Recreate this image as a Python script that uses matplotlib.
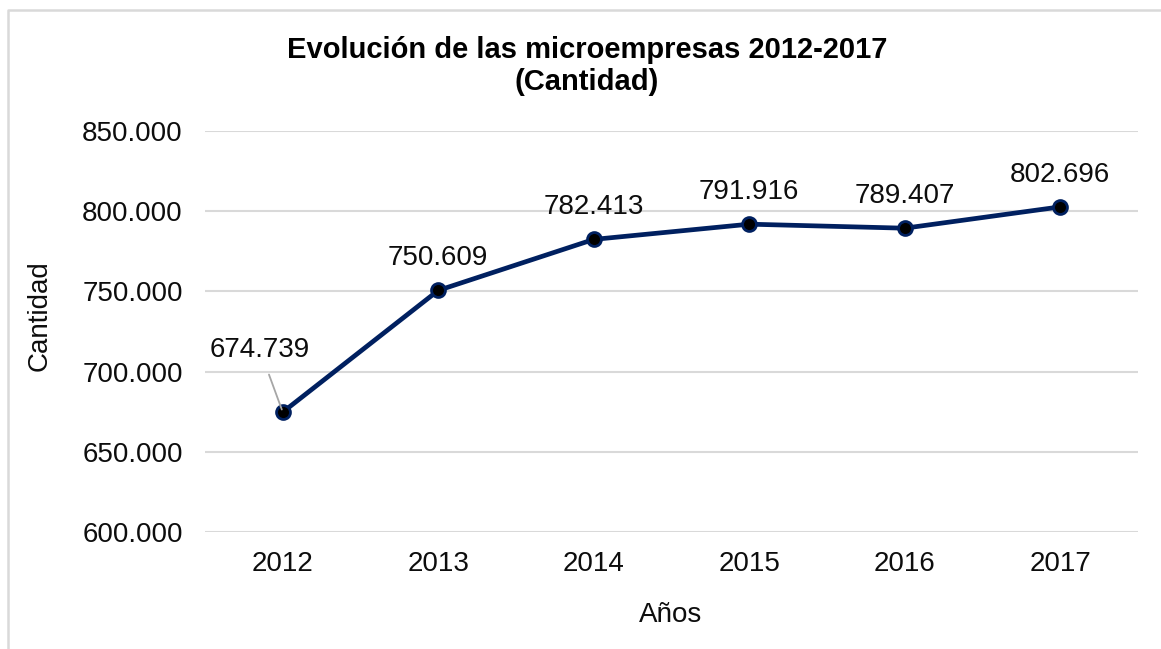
import matplotlib
matplotlib.use("Agg")
import matplotlib.pyplot as plt
from matplotlib.lines import Line2D
from matplotlib.ticker import FuncFormatter, MultipleLocator

years = ["2012", "2013", "2014", "2015", "2016", "2017"]
values = [674739, 750609, 782413, 791916, 789407, 802696]
title = "Evolución de las microempresas 2012-2017\n(Cantidad)"
xlabel = "Años"
ylabel = "Cantidad"

plt.rcParams['font.family'] = ['Liberation Sans', 'DejaVu Sans']

TXT = "#0d0d0d"
W, H = 1161, 649
fig = plt.figure(figsize=(W / 100, H / 100), dpi=100)
ax = fig.add_axes([205 / W, 1 - 532 / H, (1138 - 205) / W, (532 - 131) / H])

x = list(range(len(years)))
ax.plot(x, values, color="#002060", lw=3.4, marker="o", ms=10,
        mfc="black", mec="#002060", mew=2, zorder=3)

ax.set_xlim(-0.5, len(years) - 0.5)
ax.set_ylim(600000, 850000)
ax.yaxis.set_major_locator(MultipleLocator(50000))
ax.yaxis.set_major_formatter(FuncFormatter(lambda v, p: f"{int(v):,}".replace(",", ".")))
ax.set_xticks(x)
ax.set_xticklabels(years)
ax.grid(axis="y", color="#d9d9d9", lw=1.5)
ax.set_axisbelow(True)
for s in ax.spines.values():
    s.set_visible(False)
ax.tick_params(length=0, labelsize=20, colors=TXT)
ax.tick_params(axis="y", pad=16)
ax.tick_params(axis="x", pad=14)

fmt = lambda v: f"{v:,}".replace(",", ".")
for i, v in enumerate(values):
    if i == 0:
        ax.annotate(fmt(v), (i, v), xytext=(-16.5, 45), textcoords="offset points",
                    ha="center", va="center", fontsize=20, color=TXT,
                    arrowprops=dict(arrowstyle="-", color="#a6a6a6", lw=1.3,
                                    shrinkA=7, shrinkB=2))
    else:
        ax.annotate(fmt(v), (i, v), xytext=(0, 23), textcoords="offset points",
                    ha="center", va="center", fontsize=20, color=TXT)

fig.text(587 / W, 1 - 66 / H, title, ha="center", va="center", fontsize=21,
         fontweight="bold", color="black", linespacing=1.15)
fig.text(671 / W, 1 - 615 / H, xlabel, ha="center", va="center", fontsize=20, color=TXT)
fig.text(40 / W, 1 - 316 / H, ylabel, ha="center", va="center", fontsize=20,
         color=TXT, rotation=90)

fig.add_artist(Line2D([8 / W, 8 / W, 1.0], [0.0, 1 - 10 / H, 1 - 10 / H],
                      transform=fig.transFigure, color="#d9d9d9", lw=1.8))

fig.savefig("out.png", dpi=100)
